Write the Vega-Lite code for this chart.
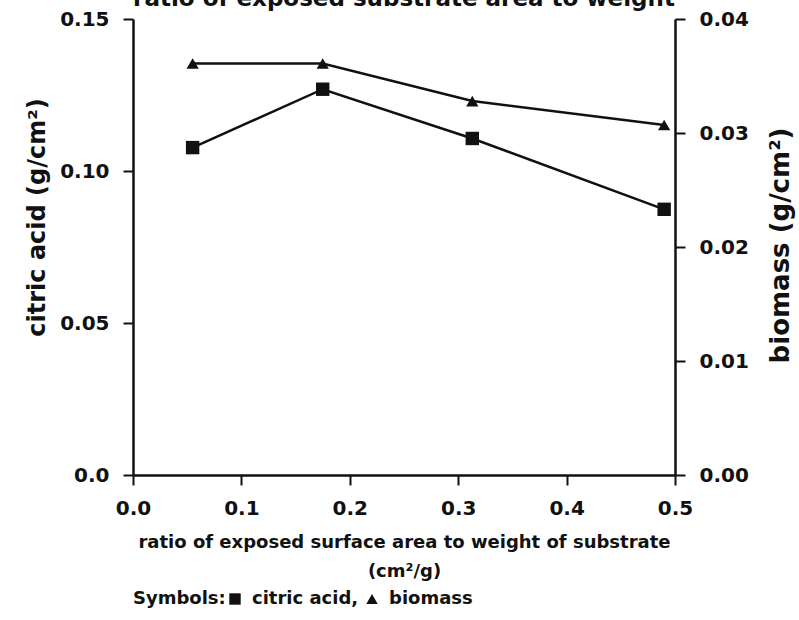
{
  "$schema": "https://vega.github.io/schema/vega-lite/v6.json",
  "width": 542,
  "height": 456,
  "autosize": {"type": "none"},
  "padding": {"left": 133, "top": 19, "right": 124, "bottom": 145},
  "background": "white",
  "config": {
    "font": "DejaVu Sans",
    "view": {"stroke": null},
    "axis": {
      "grid": false,
      "domainColor": "#111",
      "domainWidth": 2.5,
      "tickColor": "#111",
      "tickWidth": 2,
      "tickSize": 10,
      "labelColor": "#111",
      "labelFont": "DejaVu Sans",
      "labelFontWeight": "bold",
      "labelFontSize": 20,
      "titleColor": "#111",
      "titleFont": "DejaVu Sans",
      "titleFontWeight": "bold",
      "titleFontSize": 18
    },
    "legend": {
      "labelFont": "DejaVu Sans",
      "titleFont": "DejaVu Sans"
    }
  },
  "title": {
    "text": "ratio of exposed substrate area to weight",
    "fontSize": 23,
    "fontWeight": "bold",
    "font": "DejaVu Sans",
    "color": "#111",
    "anchor": "middle",
    "offset": -2
  },
  "data": {
    "values": [
      {"ratio": 0.055, "series": "citric acid", "value": 0.1077},
      {"ratio": 0.175, "series": "citric acid", "value": 0.1269},
      {"ratio": 0.313, "series": "citric acid", "value": 0.1107},
      {"ratio": 0.490, "series": "citric acid", "value": 0.0874},
      {"ratio": 0.055, "series": "biomass", "value": 0.0361},
      {"ratio": 0.175, "series": "biomass", "value": 0.0361},
      {"ratio": 0.313, "series": "biomass", "value": 0.0328},
      {"ratio": 0.490, "series": "biomass", "value": 0.0307}
    ]
  },
  "encoding": {
    "x": {
      "field": "ratio",
      "type": "quantitative",
      "scale": {"domain": [0, 0.5]},
      "axis": {
        "values": [0, 0.1, 0.2, 0.3, 0.4, 0.5],
        "format": ".1f",
        "labelFlush": false,
        "labelPadding": 13,
        "title": ["ratio of exposed surface area to weight of substrate", "(cm²/g)"],
        "titlePadding": 15,
        "titleLineHeight": 29
      }
    }
  },
  "layer": [
    {
      "transform": [{"filter": "datum.series === 'citric acid'"}],
      "encoding": {
        "y": {
          "field": "value",
          "type": "quantitative",
          "scale": {"domain": [0, 0.15]},
          "axis": {
            "orient": "left",
            "values": [0, 0.05, 0.1, 0.15],
            "labelExpr": "datum.value == 0 ? '0.0' : format(datum.value, '.2f')",
            "labelPadding": 14,
            "title": "citric acid (g/cm²)",
            "titleFontSize": 24,
            "titleAngle": -90,
            "titleAlign": "center",
            "titleBaseline": "alphabetic",
            "titleX": -89,
            "titleY": 198
          }
        }
      },
      "layer": [
        {"mark": {"type": "line", "color": "#111", "strokeWidth": 2.5}},
        {
          "mark": {"type": "point", "filled": true, "color": "#111", "opacity": 1, "size": 180},
          "encoding": {
            "shape": {
              "field": "series",
              "type": "nominal",
              "scale": {"domain": ["citric acid", "biomass"], "range": ["square", "triangle-up"]},
              "legend": {
                "orient": "bottom",
                "direction": "horizontal",
                "title": "Symbols:",
                "titleOrient": "left",
                "titleFontSize": 18,
                "titleFontWeight": "bold",
                "titleColor": "#111",
                "titlePadding": 0,
                "labelFontSize": 18,
                "labelFontWeight": "bold",
                "labelColor": "#111",
                "labelOffset": 8,
                "labelExpr": "datum.label === 'citric acid' ? 'citric acid,' : datum.label",
                "symbolFillColor": "#111",
                "symbolStrokeColor": "#111",
                "symbolSize": 130,
                "columnPadding": 4,
                "offset": 10
              }
            }
          }
        }
      ]
    },
    {
      "transform": [{"filter": "datum.series === 'biomass'"}],
      "encoding": {
        "y": {
          "field": "value",
          "type": "quantitative",
          "scale": {"domain": [0, 0.04]},
          "axis": {
            "orient": "right",
            "values": [0, 0.01, 0.02, 0.03, 0.04],
            "format": ".2f",
            "labelPadding": 14,
            "title": "biomass (g/cm²)",
            "titleFontSize": 26,
            "titleAngle": -90,
            "titleAlign": "center",
            "titleBaseline": "alphabetic",
            "titleX": 113,
            "titleY": 226
          }
        }
      },
      "layer": [
        {"mark": {"type": "line", "color": "#111", "strokeWidth": 2.5}},
        {
          "mark": {"type": "point", "filled": true, "color": "#111", "opacity": 1, "size": 150},
          "encoding": {
            "shape": {
              "field": "series",
              "type": "nominal",
              "scale": {"domain": ["citric acid", "biomass"], "range": ["square", "triangle-up"]}
            }
          }
        }
      ]
    }
  ],
  "resolve": {"scale": {"y": "independent"}}
}
